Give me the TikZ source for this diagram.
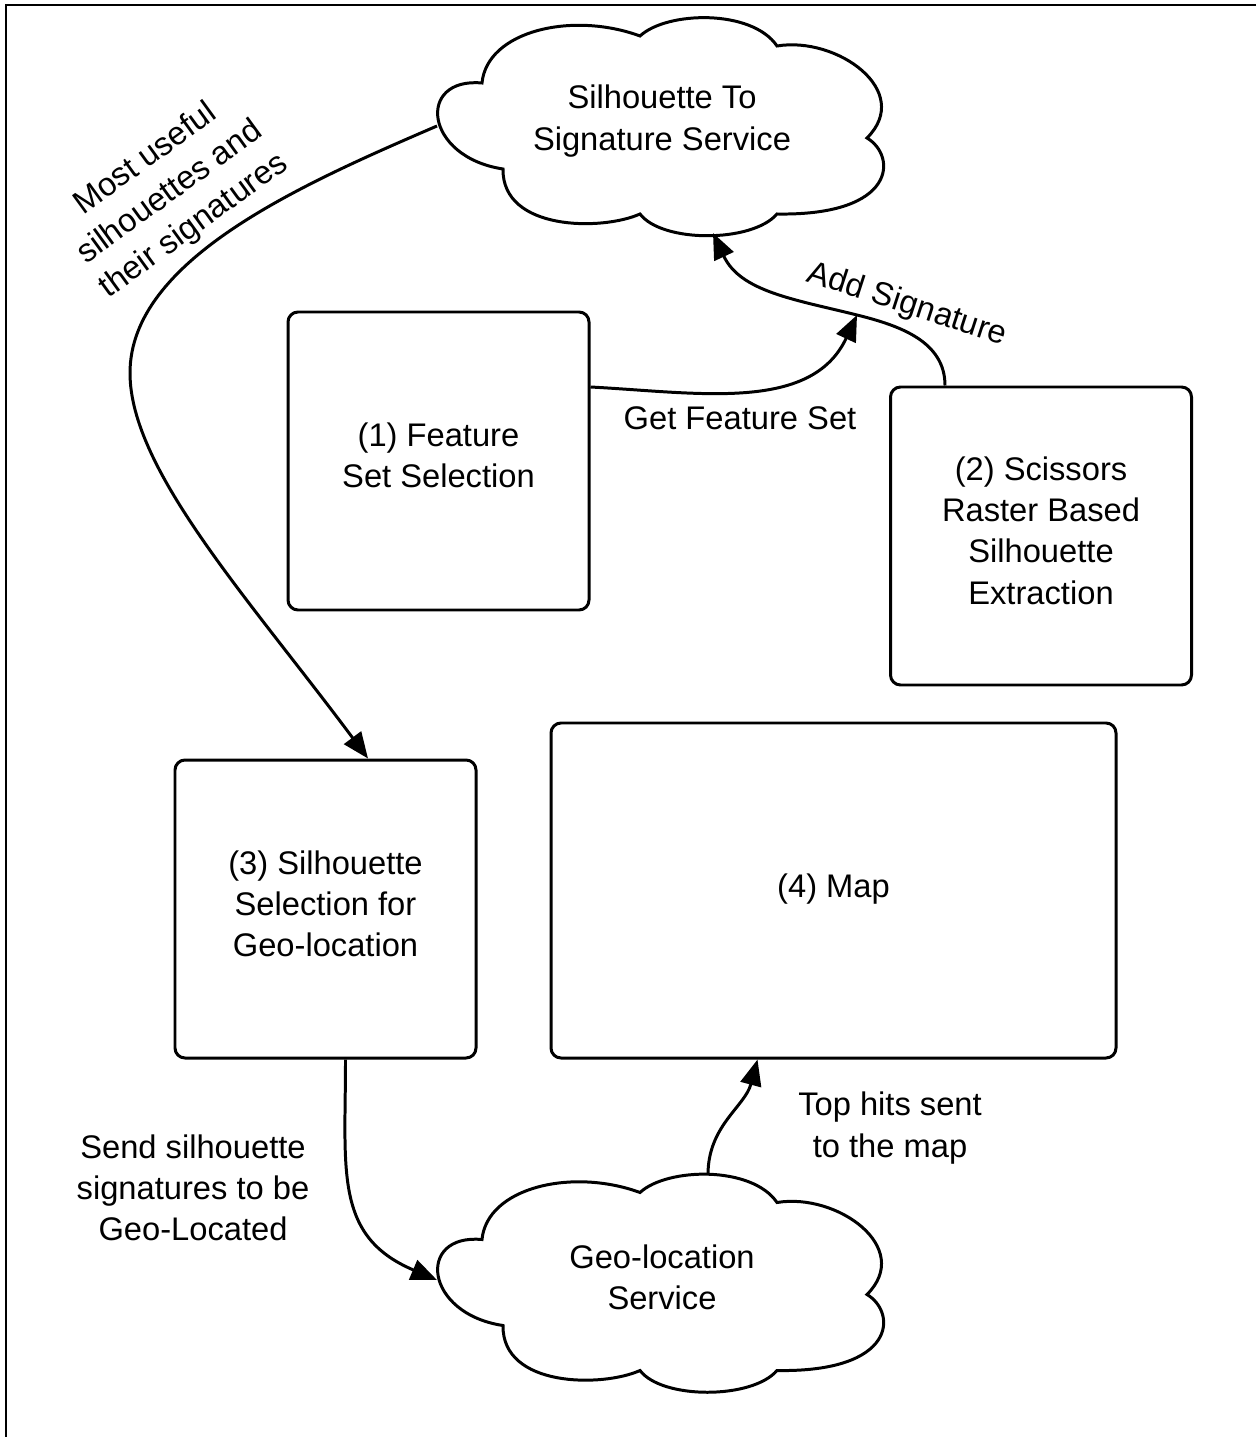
\documentclass[tikz,border=0pt]{standalone}
\usepackage{fontspec}
\setmainfont{Liberation Sans}
\usetikzlibrary{arrows.meta, positioning, calc}

\begin{document}
\begin{tikzpicture}[x=0.1mm, y=0.1mm, line width=0.85pt,
    every node/.style={font=\fontsize{9.3}{11.7}\selectfont, align=center},
    stage/.style={draw, rounded corners=1mm, minimum width=30.1mm, minimum height=29.8mm, text depth=1.1mm},
    flow/.style={-{Triangle[length=2.6mm, width=2.1mm]}},
    note/.style={inner sep=0pt}]
    \useasboundingbox (0,0) rectangle (1256,-1437);

    % Frame
    \draw[line width=0.6pt] (1256,-5) -- (6,-5) -- (6,-1437);

    % Services
    \node (sigsvc) at (662,-121) {Silhouette To\\Signature Service};
    \node (geosvc) at (662,-1277.5) {Geo-location\\Service};
    \foreach \c in {sigsvc, geosvc}
        \draw[shift={(\c.center)}] (-180,38) .. controls (-175,90) and (-90,110) .. (-22,85)
            .. controls (5,110) and (90,112) .. (115,75)
            .. controls (175,85) and (252,30) .. (205,-17)
            .. controls (235,-35) and (235,-95) .. (115,-93)
            .. controls (90,-122) and (0,-122) .. (-22,-93)
            .. controls (-60,-110) and (-160,-110) .. (-159,-48)
            .. controls (-238,-36) and (-246,44) .. (-180,38) -- cycle;

    % Stages
    \node[stage] (feat) at (438.5,-461) {(1) Feature\\Set Selection};
    \node[stage] (scis) at (1041,-536) {(2) Scissors\\Raster Based\\Silhouette\\Extraction};
    \node[stage] (sel) at (325.5,-909) {(3) Silhouette\\Selection for\\Geo-location};
    \node[stage, minimum width=56.5mm, minimum height=33.5mm, text depth=0.9mm] (map) at (833.5,-890.5) {(4) Map};

    % Connectors
    \coordinate (join) at (857,-315);
    \draw[flow] ([xshift=-22.5mm, yshift=-0.5mm]sigsvc.center)
        .. controls (300,-185) and (130,-260) .. (130,-373)
        .. controls (130,-470) and (250,-600) .. ([xshift=4.25mm]sel.north);
    \draw[flow] ([xshift=-9.6mm]scis.north) to[out=90, in=-14] (join)
        to[out=166, in=-65] ([xshift=5.1mm, yshift=-11.2mm]sigsvc.center);
    \draw[flow] ([yshift=7.4mm]feat.east) to[out=-3, in=-115] (join);
    \draw[flow] ([xshift=2mm]sel.south) to[out=-90, in=157, looseness=1.2] ([xshift=-22.5mm, yshift=-0.25mm]geosvc.center);
    \draw[flow] ([xshift=4.6mm, yshift=10.3mm]geosvc.center) to[out=90, in=-105] ([xshift=-7.6mm]map.south);

    % Labels
    \node[note, rotate=36] (lblbest) at (170,-193) {Most useful\\silhouettes and\\their signatures};
    \node[note, rotate=-18] (lbladd) at (907,-305) {Add Signature};
    \node[note] (lblget) at (740,-418) {Get Feature Set};
    \node[note] (lblsend) at (193,-1188) {Send silhouette\\signatures to be\\Geo-Located};
    \node[note] (lbltop) at (890,-1128) {Top hits sent\\to the map};
\end{tikzpicture}
\end{document}
